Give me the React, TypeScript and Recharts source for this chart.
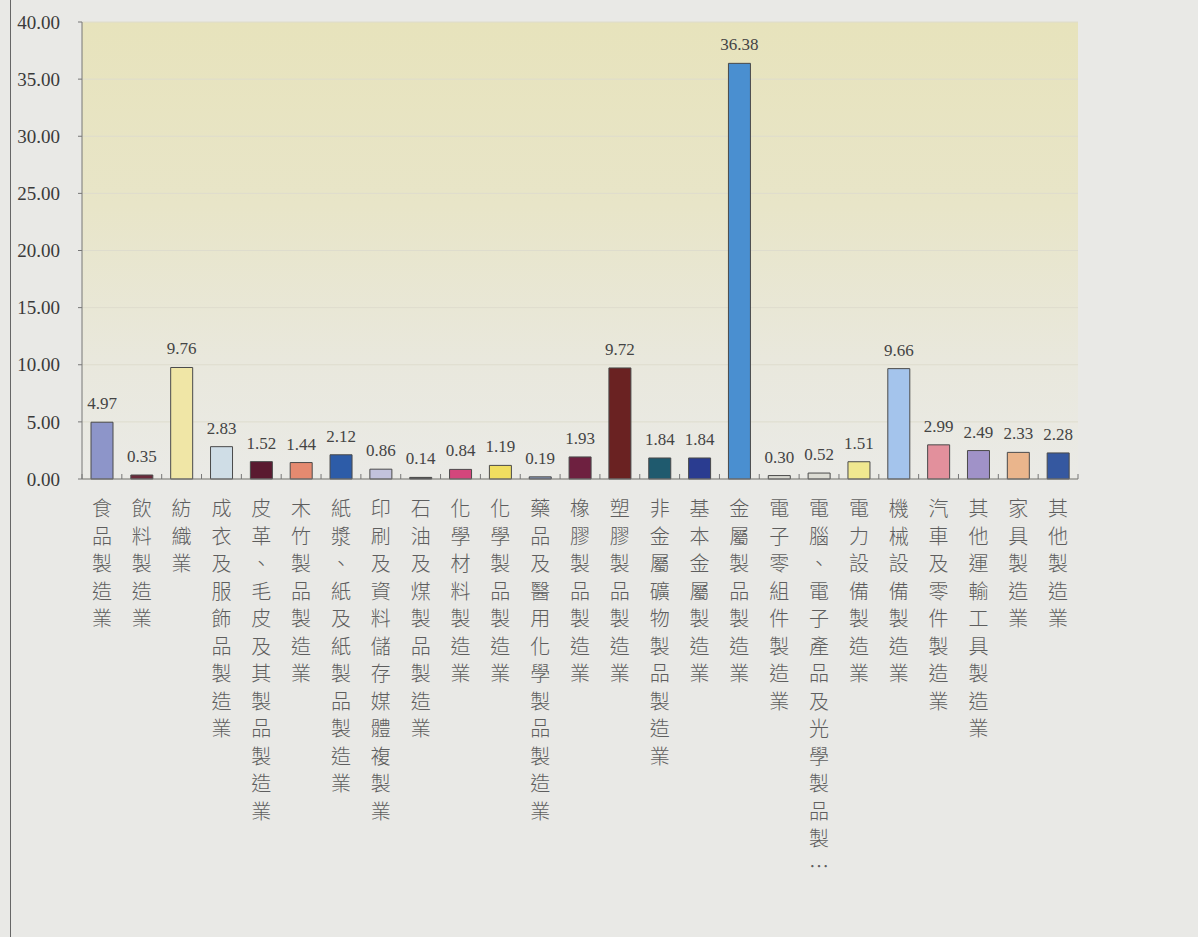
import React from 'react';
import { BarChart, Bar, XAxis, YAxis, CartesianGrid, Cell, LabelList } from 'recharts';

const categories = [
  '食品製造業', '飲料製造業', '紡織業', '成衣及服飾品製造業', '皮革、毛皮及其製品製造業',
  '木竹製品製造業', '紙漿、紙及紙製品製造業', '印刷及資料儲存媒體複製業', '石油及煤製品製造業', '化學材料製造業',
  '化學製品製造業', '藥品及醫用化學製品製造業', '橡膠製品製造業', '塑膠製品製造業', '非金屬礦物製品製造業',
  '基本金屬製造業', '金屬製品製造業', '電子零組件製造業', '電腦、電子產品及光學製品製造業', '電力設備製造業',
  '機械設備製造業', '汽車及零件製造業', '其他運輸工具製造業', '家具製造業', '其他製造業',
];

const values = [
  4.97, 0.35, 9.76, 2.83, 1.52, 1.44, 2.12, 0.86, 0.14, 0.84, 1.19, 0.19, 1.93,
  9.72, 1.84, 1.84, 36.38, 0.3, 0.52, 1.51, 9.66, 2.99, 2.49, 2.33, 2.28,
];

const barColors = [
  '#8d95c9', '#6a2a3a', '#f0e6a6', '#cfdde6', '#5a1a30', '#e58a70', '#2d5ca8', '#c2c2dc',
  '#3a3a3a', '#d4467c', '#f0de60', '#8898b8', '#6e2040', '#6a2222', '#1f5a6e', '#2a3c90',
  '#4a8fd0', '#d8d8d0', '#dcdcd4', '#f0e890', '#a4c4ec', '#e2909c', '#a092c8', '#eab58c', '#3558a0',
];

const yTicks = [0, 5, 10, 15, 20, 25, 30, 35, 40];

const data = categories.map((name, i) => ({ name, value: values[i] }));

const CHART_W = 1198;
const CHART_H = 937;
const MARGIN = { top: 22, right: 120, bottom: 0, left: 0 };
const Y_AXIS_W = 82;
const BAND = (CHART_W - MARGIN.right - MARGIN.left - Y_AXIS_W) / categories.length;

// labels longer than 13 characters get cut with an ellipsis, like the original
const shorten = (s: string) => (s.length > 13 ? s.slice(0, 13) + '…' : s);

const VerticalTick = (props: any) => {
  const { x, y, payload, index } = props;
  const chars = shorten(payload.value).split('');
  const axisY = y - 8;
  const left = x - BAND / 2;
  const right = x + BAND / 2;
  return (
    <g>
      <line x1={left} x2={left} y1={axisY - 5} y2={axisY} stroke="#777" />
      {index === categories.length - 1 && (
        <line x1={right} x2={right} y1={axisY - 5} y2={axisY} stroke="#777" />
      )}
      <text
        textAnchor="middle"
        fontFamily="'Noto Sans CJK TC', sans-serif"
        fontSize={20}
        fontWeight={300}
        fill="#5e5e5e"
      >
        {chars.map((c, i) => (
          <tspan key={i} x={x} y={axisY + 37 + i * 27.5}>
            {c}
          </tspan>
        ))}
      </text>
    </g>
  );
};

export default function App() {
  return (
    <div
      style={{
        position: 'absolute',
        left: 0,
        top: 0,
        width: CHART_W,
        height: CHART_H,
        background: '#e9e9e6',
        overflow: 'hidden',
      }}
    >
      <div style={{ position: 'absolute', left: 10, top: 0, width: 1, height: CHART_H, background: '#666' }} />
      <BarChart width={CHART_W} height={CHART_H} data={data} margin={MARGIN}>
        <defs>
          <linearGradient id="plotBg" x1="0" y1="0" x2="0" y2="1">
            <stop offset="0%" stopColor="#e7e3bc" />
            <stop offset="40%" stopColor="#e8e5c8" />
            <stop offset="75%" stopColor="#e9e8dd" />
            <stop offset="100%" stopColor="#eaeae6" />
          </linearGradient>
        </defs>
        <CartesianGrid vertical={false} fill="url(#plotBg)" stroke="#dedccd" />
        <XAxis
          dataKey="name"
          interval={0}
          height={CHART_H - 479}
          tick={<VerticalTick />}
          tickLine={false}
          axisLine={{ stroke: '#777' }}
        />
        <YAxis
          domain={[0, 40]}
          ticks={yTicks}
          width={Y_AXIS_W}
          tickFormatter={(v: number) => v.toFixed(2)}
          tick={{ fontFamily: "'Liberation Serif', serif", fontSize: 19, fill: '#3a3a3a' }}
          tickSize={4}
          tickMargin={18}
          tickLine={{ stroke: '#777' }}
          axisLine={{ stroke: '#777' }}
        />
        <Bar dataKey="value" barSize={22} stroke="#4a4a4a" strokeWidth={1} isAnimationActive={false}>
          {data.map((d, i) => (
            <Cell key={d.name} fill={barColors[i]} />
          ))}
          <LabelList
            dataKey="value"
            position="top"
            offset={13}
            formatter={(v: any) => Number(v).toFixed(2)}
            style={{ fontFamily: "'Liberation Serif', serif", fontSize: 17, fill: '#444' }}
          />
        </Bar>
      </BarChart>
    </div>
  );
}
